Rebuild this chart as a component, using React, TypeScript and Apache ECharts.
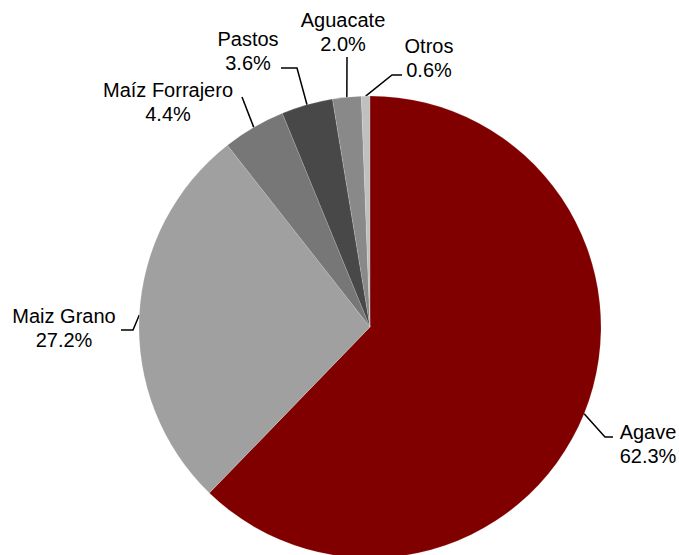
import React, { useEffect, useRef } from "react";
import * as echarts from "echarts";

const categories = ["Agave", "Maiz Grano", "Maíz Forrajero", "Pastos", "Aguacate", "Otros"];
const values = [62.3, 27.2, 4.4, 3.6, 2.0, 0.6];
const colors = ["#800000", "#a0a0a0", "#777777", "#484848", "#898989", "#c0c0c0"];

// label placement (layout only): text block centre, then leader elbow and end
const labelCentre: [number, number][] = [
  [648, 444],
  [64, 328],
  [168, 102],
  [248, 51],
  [343, 32],
  [429, 58],
];
const leaderTail: [number, number][][] = [
  [[605, 437], [613, 437]],
  [[133, 330], [121, 330]],
  [[242, 97], [242, 97]],
  [[297, 68], [281, 68]],
  [[347, 57], [347, 57]],
  [[392, 75], [402, 75]],
];

export default function App() {
  const ref = useRef<HTMLDivElement>(null);
  useEffect(() => {
    if (!ref.current) return;
    const chart = echarts.init(ref.current, null, { renderer: "svg" });
    chart.setOption({
      animation: false,
      backgroundColor: "#ffffff",
      series: [
        {
          type: "pie",
          center: [370, 327],
          radius: [0, 231],
          startAngle: 90,
          clockwise: true,
          avoidLabelOverlap: false,
          data: categories.map((c, i) => ({
            name: c,
            value: values[i],
            itemStyle: { color: colors[i] },
          })),
          itemStyle: { borderColor: "rgba(255,255,255,0.3)", borderWidth: 0.5 },
          label: {
            show: true,
            position: "outside",
            alignTo: "none",
            formatter: (p: any) => `${p.name}\n${p.value.toFixed(1)}%`,
            fontFamily: "Liberation Sans, Arial, sans-serif",
            fontSize: 20,
            color: "#000",
            lineHeight: 24,
          },
          labelLine: {
            show: true,
            length: 20,
            length2: 10,
            lineStyle: { color: "#000", width: 1.5 },
          },
          labelLayout: (params: any) => {
            const i = params.dataIndex;
            const [cx, cy] = labelCentre[i];
            const anchor = params.labelLinePoints
              ? params.labelLinePoints[0]
              : [cx, cy];
            const tail = leaderTail[i];
            return {
              x: cx,
              y: cy,
              align: "center",
              verticalAlign: "middle",
              labelLinePoints: [anchor, tail[0], tail[1]],
            };
          },
        },
      ],
    });
    return () => chart.dispose();
  }, []);
  return (
    <div
      ref={ref}
      style={{ position: "fixed", left: 0, top: 0, width: 679, height: 555 }}
    />
  );
}
